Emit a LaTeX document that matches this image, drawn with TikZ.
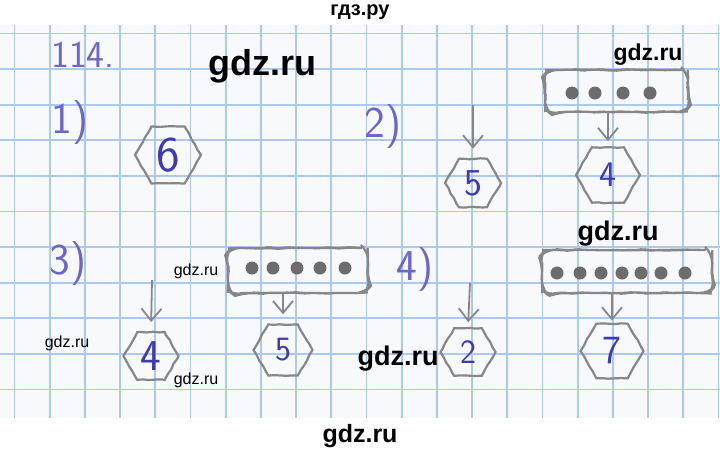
\documentclass[tikz,border=0pt]{standalone}
\usepackage{fontspec}
\newfontfamily\wmfont{Liberation Sans}
\usetikzlibrary{shapes.geometric}
\usetikzlibrary{arrows,arrows.meta}
\usetikzlibrary{decorations.pathmorphing}
\definecolor{pencil}{RGB}{135,135,135}
\definecolor{lead}{RGB}{108,108,108}
\definecolor{ink}{RGB}{62,58,178}
\definecolor{inklight}{RGB}{108,102,202}
\definecolor{paper}{RGB}{247,249,253}
\definecolor{gridline}{RGB}{172,202,240}

\begin{document}
\pgfmathsetseed{7}
\begin{tikzpicture}[x=1pt,y=-1pt,pencil,line width=2.2pt,
	hexa/.style={draw,regular polygon,regular polygon sides=6,inner sep=0pt,text=ink,decorate,decoration={random steps,segment length=6pt,amplitude=0.5pt}},
	dotbox/.style={draw,rectangle,rounded corners=9pt,inner sep=0pt,decorate,decoration={random steps,segment length=6pt,amplitude=0.5pt}},
	dot/.style={circle,fill=lead,draw=none,minimum size=13pt,inner sep=0pt},
	arr/.style={-{Straight Barb[length=12pt,width=20pt]},line width=1.8pt},
	wm/.style={text=black,font=\wmfont\bfseries\fontsize{#1}{#1}\selectfont},
	wmthin/.style={text=black,font=\wmfont\fontsize{#1}{#1}\selectfont}]
	\useasboundingbox (0,0) rectangle (720,451);
	\fill[white] (0,0) rectangle (720,451);
	\fill[paper] (0,25) rectangle (720,418);
	% squared paper
	\foreach \i in {0,...,20}
		\draw[gridline,line width=1.8pt] (14.5+35.2*\i,25) -- (14.5+35.2*\i,418);
	\foreach \j in {0,...,10}
		\draw[gridline,line width=1.8pt] (0,33.5+35.6*\j) -- (720,33.5+35.6*\j);

	\node[inklight,font=\sffamily\fontsize{38}{38}\selectfont] (T0) at (83,55) {114.};

	% 1)
	\node[inklight,font=\sffamily\fontsize{44}{44}\selectfont] (T1) at (70,123) {1)};
	\node[hexa,minimum size=66pt,font=\sffamily\fontsize{50}{50}\selectfont] (H1) at (168,155) {6};

	% 2)
	\node[inklight,font=\sffamily\fontsize{44}{44}\selectfont] (T2) at (383,127) {2)};
	\coordinate (A21) at (473,105);
	\node[hexa,minimum size=56pt,font=\sffamily\fontsize{38}{38}\selectfont] (H21) at (473,183) {5};
	\draw[arr,shorten >=9pt] (A21) -- (H21.north);
	\node[dotbox,minimum width=143pt,minimum height=42pt] (B2) at (616.5,91) {};
	\foreach \x [count=\i] in {572,595,623,650}
		\node[dot] (D2\i) at (\x,93) {};
	\node[hexa,minimum size=64pt,font=\sffamily\fontsize{36}{36}\selectfont] (H22) at (608,175) {4};
	\draw[arr,shorten >=5pt] (B2.south -| H22.north) -- (H22.north);

	% 3)
	\node[inklight,font=\sffamily\fontsize{44}{44}\selectfont] (T3) at (68,264) {3)};
	\coordinate (A31) at (152,280);
	\node[hexa,minimum size=55pt,font=\sffamily\fontsize{44}{44}\selectfont] (H31) at (151,356) {4};
	\draw[arr,shorten >=9pt] (A31) -- (H31.north);
	\node[dotbox,minimum width=140pt,minimum height=45pt] (B3) at (298,270.5) {};
	\foreach \x [count=\i] in {252,273,297,320,345}
		\node[dot] (D3\i) at (\x,268) {};
	\node[hexa,minimum size=59pt,font=\sffamily\fontsize{34}{34}\selectfont] (H32) at (283,350) {5};
	\draw[arr,shorten >=9pt] (B3.south -| H32.north) -- (H32.north);

	% 4)
	\node[inklight,font=\sffamily\fontsize{44}{44}\selectfont] (T4) at (415,270) {4)};
	\coordinate (A41) at (470,283);
	\node[hexa,minimum size=55pt,font=\sffamily\fontsize{34}{34}\selectfont] (H41) at (468,352) {2};
	\draw[arr,shorten >=5pt] (A41) -- (H41.north);
	\node[dotbox,minimum width=170pt,minimum height=43pt] (B4) at (627,271.5) {};
	\foreach \x [count=\i] in {557,580,601,622,641,661,685}
		\node[dot] (D4\i) at (\x,273) {};
	\node[hexa,minimum size=63pt,font=\sffamily\fontsize{40}{40}\selectfont] (H42) at (612,351) {7};
	\draw[arr,shorten >=2pt] (B4.south -| H42.north) -- (H42.north);

	% watermarks
	\node[wm=20] (W0) at (360,12) {гдз.ру};
	\node[wm=36] (W1) at (262,66) {gdz.ru};
	\node[wm=23] (W2) at (648,55) {gdz.ru};
	\node[wm=27] (W3) at (618,234) {gdz.ru};
	\node[wm=27] (W4) at (398,359) {gdz.ru};
	\node[wm=25] (W5) at (360,436) {gdz.ru};
	\node[wmthin=16] (W6) at (196,271) {gdz.ru};
	\node[wmthin=16] (W7) at (67,343) {gdz.ru};
	\node[wmthin=16] (W8) at (196,380) {gdz.ru};
\end{tikzpicture}
\end{document}
